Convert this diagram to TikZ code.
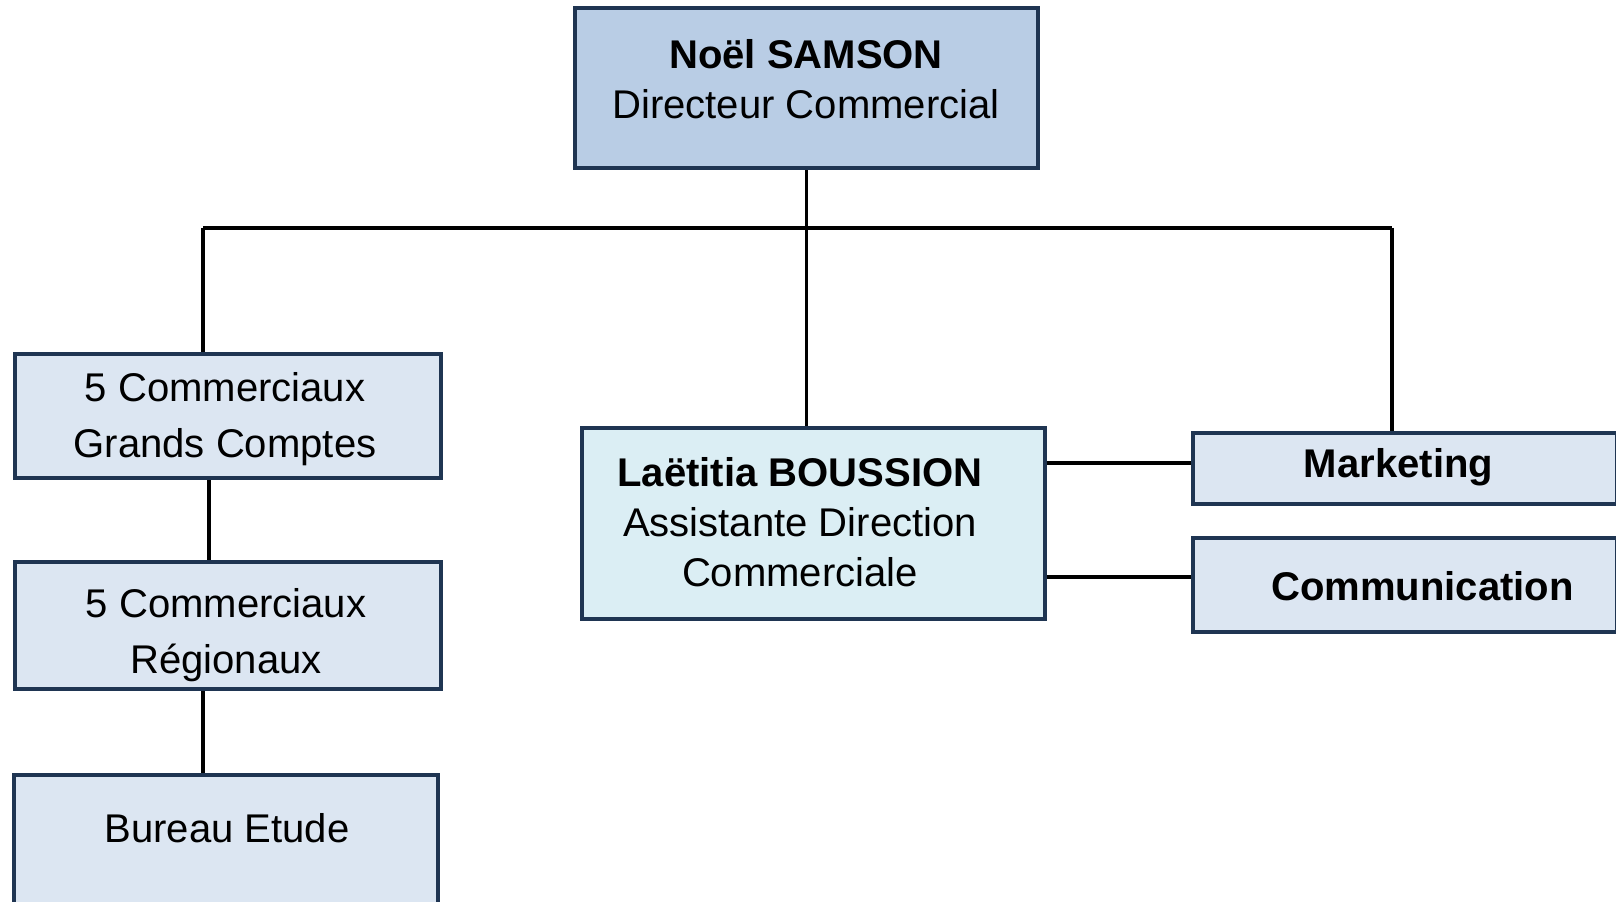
\documentclass[tikz,border=0pt]{standalone}
\usepackage{fontspec}
\setmainfont{Liberation Sans}
\definecolor{navy}{HTML}{1F3552}
\definecolor{dirblue}{HTML}{B9CDE5}
\definecolor{paleblue}{HTML}{DCE6F2}
\definecolor{palecyan}{HTML}{DBEEF4}
\tikzstyle{box}=[shape=rectangle,
                 draw=navy,
                 fill=paleblue,
                 line width=2.3pt,
                 inner sep=0pt]
\tikzstyle{lbl}=[align=center,
                 inner sep=0pt,
                 font=\fontsize{22.8}{28.4}\selectfont]
\tikzstyle{lbl2}=[lbl,
                  font=\fontsize{22.8}{31.8}\selectfont]

\begin{document}
\begin{tikzpicture}[x=0.02cm,y=-0.02cm,line width=2pt]

\clip (0,0) rectangle (1616,902);

\node[box,fill=dirblue,minimum width=9.26cm,minimum height=3.2cm]  (dir)  at (806.5,88)   {};
\node[box,minimum width=8.52cm,minimum height=2.48cm]              (gc)   at (228,416)    {};
\node[box,minimum width=8.52cm,minimum height=2.54cm]              (reg)  at (228,625.5)  {};
\node[box,minimum width=8.47cm,minimum height=3.2cm]               (be)   at (226,855)    {};
\node[box,fill=palecyan,minimum width=9.26cm,minimum height=3.82cm] (asst) at (813.5,523.5) {};
\node[box,minimum width=8.48cm,minimum height=1.42cm]              (mkt)  at (1405,468.5) {};
\node[box,minimum width=8.48cm,minimum height=1.88cm]              (com)  at (1405,585)   {};

\node[lbl]  (dirtext)  at (806,79)      {\textbf{Noël SAMSON}\\Directeur Commercial};
\node[lbl2] (gctext)   at (225,419.5)   {5 Commerciaux\\Grands Comptes};
\node[lbl2] (regtext)  at (226,635)     {5 Commerciaux\\Régionaux};
\node[lbl]  (betext)   at (227,828.5)   {Bureau Etude};
\node[lbl]  (asstext)  at (800,522.5)   {\textbf{Laëtitia BOUSSION}\\Assistante Direction\\Commerciale};
\node[lbl]  (mkttext)  at (1398.5,467.5) {\textbf{Marketing}};
\node[lbl]  (comtext)  at (1422.5,586)  {\textbf{Communication}};

\coordinate (jl) at (203,228);
\coordinate (jr) at (1392,228);

\draw (jl) -- (jr)
      (jl) -- (jl |- gc.north)
      (jr) -- (jr |- mkt.north)
      (dir.south) -- (dir.south |- asst.north)
      ([xshift=-0.38cm]gc.south) -- ([xshift=-0.38cm]gc.south |- reg.north)
      ([xshift=-0.5cm]reg.south) -- ([xshift=-0.5cm]reg.south |- be.north)
      ([yshift=1.21cm]asst.east) -- ([yshift=1.21cm]asst.east -| mkt.west)
      ([yshift=-1.07cm]asst.east) -- ([yshift=-1.07cm]asst.east -| com.west);
\end{tikzpicture}
\end{document}
